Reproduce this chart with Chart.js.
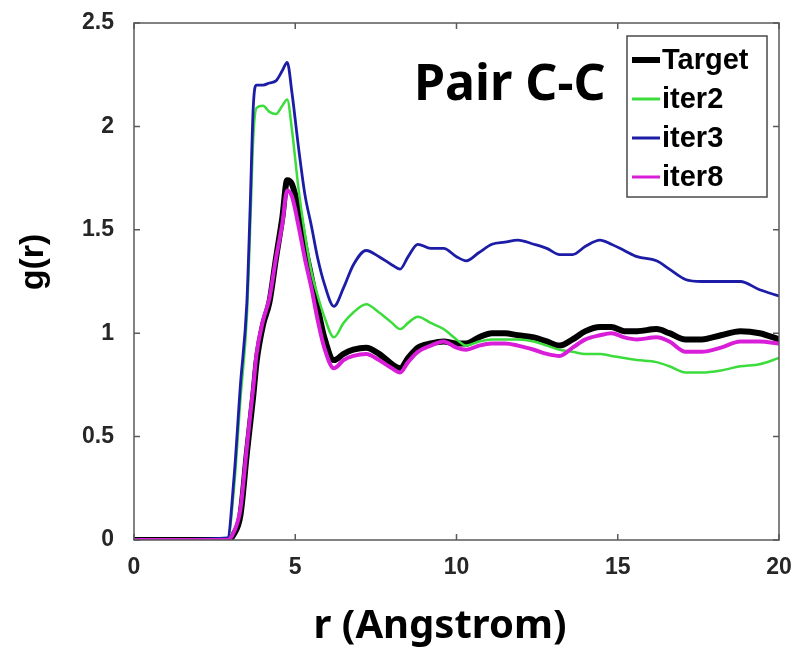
<!DOCTYPE html>
<html>
<head>
<meta charset="utf-8">
<script src="https://cdn.jsdelivr.net/npm/chart.js@4"></script>
<style>
  html, body { margin: 0; padding: 0; background: #fff; }
  canvas { display: block; }
</style>
</head>
<body>
<canvas id="rdfChart" width="797" height="654"></canvas>
<script>
// ---- data ----
const rValues = [0, 2.9, 3.1, 3.3, 3.5, 3.6, 3.7, 3.8, 4.0, 4.2, 4.4, 4.6, 4.75, 4.9,
  5.1, 5.3, 5.5, 5.7, 5.9, 6.2, 6.5, 6.8, 7.2, 7.6, 8.0, 8.25, 8.5, 8.8, 9.2, 9.6,
  10.0, 10.3, 10.7, 11.1, 11.5, 11.9, 12.4, 12.8, 13.2, 13.6, 14.0, 14.45, 14.8,
  15.2, 15.6, 16.2, 16.6, 17.1, 17.6, 18.2, 18.8, 19.4, 20];

const gTarget = [0, 0, 0.03, 0.12, 0.42, 0.56, 0.70, 0.86, 1.04, 1.15, 1.36, 1.56, 1.74, 1.72,
  1.60, 1.42, 1.27, 1.12, 0.98, 0.87, 0.90, 0.92, 0.93, 0.90, 0.85, 0.83, 0.88, 0.93, 0.95, 0.96,
  0.95, 0.95, 0.98, 1.00, 1.00, 0.99, 0.98, 0.96, 0.94, 0.97, 1.01, 1.03, 1.03,
  1.01, 1.01, 1.02, 1.00, 0.97, 0.97, 0.99, 1.01, 1.00, 0.97];

const gIter2 = [0, 0, 0.25, 0.68, 1.08, 1.50, 1.95, 2.09, 2.10, 2.07, 2.06, 2.10, 2.13, 1.98,
  1.70, 1.48, 1.30, 1.18, 1.08, 0.98, 1.05, 1.10, 1.14, 1.10, 1.05, 1.02, 1.05, 1.08, 1.05, 1.02,
  0.97, 0.94, 0.96, 0.97, 0.97, 0.97, 0.96, 0.94, 0.92, 0.91, 0.90, 0.90, 0.89,
  0.88, 0.87, 0.86, 0.84, 0.81, 0.81, 0.82, 0.84, 0.85, 0.88];

const gIter3 = [0, 0.01, 0.30, 0.75, 1.15, 1.60, 2.10, 2.20, 2.20, 2.21, 2.22, 2.27, 2.31, 2.16,
  1.90, 1.67, 1.52, 1.36, 1.24, 1.13, 1.22, 1.33, 1.40, 1.37, 1.33, 1.31, 1.37, 1.43, 1.41, 1.41,
  1.37, 1.35, 1.39, 1.43, 1.44, 1.45, 1.43, 1.41, 1.38, 1.38, 1.42, 1.45, 1.43,
  1.40, 1.37, 1.35, 1.31, 1.26, 1.25, 1.25, 1.25, 1.21, 1.18];

const gIter8 = [0, 0, 0.04, 0.15, 0.45, 0.60, 0.74, 0.90, 1.06, 1.17, 1.36, 1.53, 1.69, 1.66,
  1.52, 1.36, 1.22, 1.06, 0.93, 0.83, 0.87, 0.89, 0.90, 0.87, 0.83, 0.81, 0.86, 0.91, 0.94, 0.96,
  0.93, 0.92, 0.94, 0.95, 0.95, 0.94, 0.92, 0.90, 0.89, 0.93, 0.97, 0.99, 1.00,
  0.98, 0.97, 0.98, 0.96, 0.91, 0.91, 0.93, 0.96, 0.96, 0.95];

const seriesNames = ["Target", "iter2", "iter3", "iter8"];
const seriesColors = ["#000000", "#3cdc3c", "#1c1ca6", "#d81ed8"];
const seriesWidths = [6, 2.5, 2.8, 4];

const xTicks = [0, 5, 10, 15, 20];
const yTicks = [0, 0.5, 1, 1.5, 2, 2.5];

const chartTitle = "Pair C-C";
const xTitle = "r (Angstrom)";
const yTitle = "g(r)";

// ---- helpers ----
function toPoints(ys) {
  return rValues.map((r, i) => ({ x: r, y: ys[i] }));
}

const allSeries = [gTarget, gIter2, gIter3, gIter8];

const datasets = allSeries.map((ys, i) => ({
  label: seriesNames[i],
  data: toPoints(ys),
  borderColor: seriesColors[i],
  backgroundColor: seriesColors[i],
  borderWidth: seriesWidths[i],
  pointRadius: 0,
  cubicInterpolationMode: "monotone",
  borderJoinStyle: "round",
  borderCapStyle: "round",
  order: 4 - i
}));

// ---- frame, inward ticks, legend, titles (matlab look) ----
const matlabLook = {
  id: "matlabLook",
  afterDatasetsDraw(chart) {
    const { ctx, chartArea: a, scales } = chart;
    ctx.save();
    ctx.strokeStyle = "#5a5a5a";
    ctx.lineWidth = 1.5;
    ctx.strokeRect(a.left, a.top, a.right - a.left, a.bottom - a.top);

    const tl = 6;
    ctx.beginPath();
    xTicks.forEach(v => {
      const px = scales.x.getPixelForValue(v);
      ctx.moveTo(px, a.bottom); ctx.lineTo(px, a.bottom - tl);
      ctx.moveTo(px, a.top); ctx.lineTo(px, a.top + tl);
    });
    yTicks.forEach(v => {
      const py = scales.y.getPixelForValue(v);
      ctx.moveTo(a.left, py); ctx.lineTo(a.left + tl, py);
      ctx.moveTo(a.right, py); ctx.lineTo(a.right - tl, py);
    });
    ctx.stroke();
    ctx.restore();
  },
  afterDraw(chart) {
    const { ctx } = chart;
    ctx.save();

    // legend box
    const lx = 627, ly = 36, lw = 140, lh = 161;
    ctx.fillStyle = "#ffffff";
    ctx.fillRect(lx, ly, lw, lh);
    ctx.strokeStyle = "#4a4a4a";
    ctx.lineWidth = 1.5;
    ctx.strokeRect(lx, ly, lw, lh);
    const rowY = [60, 99, 138, 177];
    ctx.font = "bold 29px 'Liberation Sans', Arial, sans-serif";
    ctx.textBaseline = "middle";
    ctx.textAlign = "left";
    seriesNames.forEach((name, i) => {
      ctx.strokeStyle = seriesColors[i];
      ctx.lineWidth = i === 0 ? 6 : 3;
      ctx.beginPath();
      ctx.moveTo(632, rowY[i]);
      ctx.lineTo(660, rowY[i]);
      ctx.stroke();
      ctx.fillStyle = "#000";
      ctx.fillText(name, 662, rowY[i] + 1);
    });

    // chart text
    ctx.fillStyle = "#000";
    ctx.font = "bold 50px 'Noto Sans', sans-serif";
    ctx.textBaseline = "alphabetic";
    ctx.fillText(chartTitle, 414, 100);

    ctx.font = "bold 40px 'Noto Sans', sans-serif";
    ctx.textAlign = "center";
    ctx.fillText(xTitle, 440, 638);

    ctx.save();
    ctx.translate(34, 262);
    ctx.rotate(-Math.PI / 2);
    ctx.font = "bold 34px 'Liberation Sans', Arial, sans-serif";
    ctx.textBaseline = "middle";
    ctx.fillText(yTitle, 0, 0);
    ctx.restore();

    ctx.restore();
  }
};

const tickFont = { family: "'Liberation Sans', Arial, sans-serif", size: 23, weight: "bold" };

new Chart(document.getElementById("rdfChart"), {
  type: "line",
  data: { datasets },
  options: {
    responsive: false,
    animation: false,
    layout: { padding: { left: 0, top: 23, right: 18, bottom: 0 } },
    plugins: {
      legend: { display: false },
      tooltip: { enabled: false }
    },
    scales: {
      x: {
        type: "linear",
        min: 0, max: 20,
        grid: { display: false },
        border: { display: false },
        ticks: { stepSize: 5, font: tickFont, color: "#262626", padding: 6, maxRotation: 0 },
        afterFit: s => { s.height = 114; s.paddingLeft = 0; s.paddingRight = 0; }
      },
      y: {
        type: "linear",
        min: 0, max: 2.5,
        grid: { display: false },
        border: { display: false },
        ticks: {
          stepSize: 0.5, font: tickFont, color: "#262626", padding: 12,
          callback: v => String(v)
        },
        afterFit: s => { s.width = 134; s.paddingTop = 0; s.paddingBottom = 0; }
      }
    }
  },
  plugins: [matlabLook]
});
</script>
</body>
</html>
